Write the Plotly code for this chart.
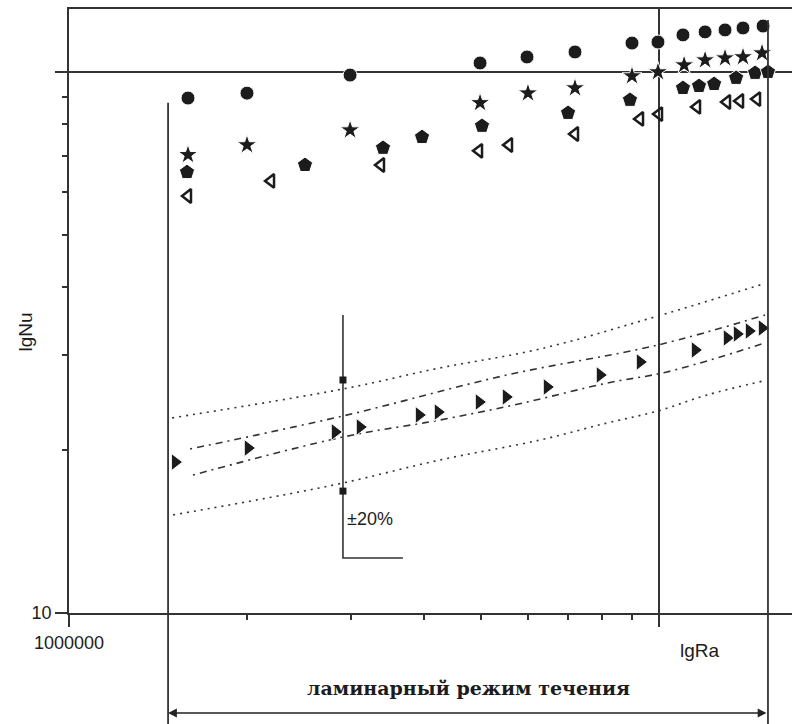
import math
import plotly.graph_objects as go

# ---------------- data ----------------
RA_CIRCLE = [1.591e6, 2.003e6, 2.995e6, 4.974e6, 5.974e6, 7.205e6, 9.0e6, 9.96e6,
             1.098e7, 1.197e7, 1.294e7, 1.388e7, 1.501e7]
NU_CIRCLE = [89.5, 91.4, 98.7, 103.9, 106.6, 108.9, 113.1, 113.6,
             117.1, 118.6, 119.6, 120.6, 121.6]

RA_STAR = [1.591e6, 2.003e6, 2.995e6, 4.974e6, 5.997e6, 7.205e6, 9.0e6, 9.96e6,
           1.103e7, 1.197e7, 1.294e7, 1.388e7, 1.495e7]
NU_STAR = [70.3, 73.3, 78.1, 87.7, 91.4, 93.4, 98.3, 100.0,
           103.0, 105.2, 106.1, 106.6, 108.4]

RA_PENT = [1.585e6, 2.512e6, 3.406e6, 3.966e6, 5.012e6, 7.012e6, 8.93e6,
           1.098e7, 1.169e7, 1.240e7, 1.351e7, 1.455e7, 1.530e7]
NU_PENT = [65.3, 67.3, 72.4, 75.8, 79.5, 84.0, 88.8,
           93.4, 94.2, 95.0, 97.5, 99.6, 100.0]

RA_TRI_L = [1.591e6, 2.200e6, 3.379e6, 4.954e6, 5.569e6, 7.205e6, 9.286e6,
            1.0e7, 1.160e7, 1.304e7, 1.372e7, 1.466e7]
NU_TRI_L = [59.0, 62.9, 67.3, 71.5, 73.3, 76.8, 81.9,
            83.6, 86.2, 88.0, 88.4, 89.1]

RA_TRI_R = [1.513e6, 2.011e6, 2.824e6, 3.113e6, 3.920e6, 4.221e6, 4.954e6, 5.504e6,
            6.459e6, 7.943e6, 9.286e6, 1.151e7, 1.304e7, 1.356e7, 1.421e7, 1.495e7]
NU_TRI_R = [19.01, 20.18, 21.61, 22.07, 23.23, 23.52, 24.55, 25.08,
            26.17, 27.54, 29.11, 30.63, 32.24, 32.79, 33.21, 33.63]

# correlation band lines
BAND1_RA = [1.495e6, 2.913e6, 4.254e6, 6.284e6, 9.961e6, 1.501e7]
BAND1_NU = [22.94, 25.95, 28.38, 30.76, 35.40, 40.56]
BAND2_RA = [1.604e6, 2.913e6, 5.526e6, 9.961e6, 1.5125e7]
BAND2_NU = [20.10, 23.13, 27.54, 31.29, 35.55]
BAND3_RA = [1.622e6, 2.913e6, 4.254e6, 5.882e6, 8.165e6, 1.0317e7, 1.5125e7]
BAND3_NU = [17.99, 21.15, 22.74, 24.45, 26.61, 27.90, 31.56]
BAND4_RA = [1.501e6, 2.166e6, 2.913e6, 4.254e6, 6.284e6, 8.165e6, 9.961e6, 1.206e7, 1.501e7]
BAND4_NU = [15.18, 16.31, 17.39, 19.18, 20.88, 22.45, 23.63, 25.29, 26.84]

# +-20% bar
ERR_RA = 2.913e6
ERR_FOOT_RA = 3.681e6
ERR_NU = [35.55, 12.64]
ERR_MARKS = [26.96, 16.80]
ERR_LABEL_NU = 14.9

# laminar regime bounds
RA_LAM = [1.472e6, 1.53e7]
NU_LAM_TOP = [87.7, 124.8]

X_TICKS = [1e6, 1e7]
X_TICKTEXT = ["1000000", ""]
X_MINOR = [2e6, 3e6, 4e6, 5e6, 6e6, 7e6, 8e6, 9e6]
Y_TICKS = [10, 100]
Y_TICKTEXT = ["10", ""]
Y_MINOR = [20, 30, 40, 50, 60, 70, 80, 90]

# ---------------- layout constants ----------------
W, H = 792, 724
ML, MR, MT, MB = 69, 0, 9, 111
PW, PH = W - ML - MR, H - MT - MB
X_RANGE = [6.0, 6.0 + PW / 590.0]
Y_RANGE = [1.0, 1.0 + PH / 541.0]
INK = "#1c1c1c"
LINE = "#333333"
FONT = "Liberation Sans, Arial, sans-serif"


def ypaper(v):
    return (math.log10(v) - Y_RANGE[0]) / (Y_RANGE[1] - Y_RANGE[0])


fig = go.Figure()

band_style = [
    (BAND1_RA, BAND1_NU, "2px,5px"),
    (BAND2_RA, BAND2_NU, "2px,5px,7px,5px"),
    (BAND3_RA, BAND3_NU, "2px,5px,7px,5px"),
    (BAND4_RA, BAND4_NU, "2px,5px"),
]
for xs, ys, dash in band_style:
    fig.add_trace(go.Scatter(x=xs, y=ys, mode="lines",
                             line=dict(color=LINE, width=1.6, dash=dash, shape="spline"),
                             showlegend=False, hoverinfo="skip"))

# error bar
fig.add_trace(go.Scatter(x=[ERR_RA, ERR_RA, ERR_FOOT_RA],
                         y=[ERR_NU[0], ERR_NU[1], ERR_NU[1]], mode="lines",
                         line=dict(color=LINE, width=1.6), showlegend=False))
fig.add_trace(go.Scatter(x=[ERR_RA, ERR_RA], y=ERR_MARKS, mode="markers",
                         marker=dict(symbol="square", size=7, color=INK), showlegend=False))

marker_sets = [
    (RA_CIRCLE, NU_CIRCLE, "circle", 14, dict(color=INK, line=dict(color="white", width=1))),
    (RA_STAR, NU_STAR, "star", 15, dict(color=INK, line=dict(color="white", width=1))),
    (RA_PENT, NU_PENT, "pentagon", 16, dict(color=INK, line=dict(color="white", width=1))),
    (RA_TRI_L, NU_TRI_L, "triangle-left-open", 12, dict(color=INK, line=dict(color=INK, width=2.5))),
    (RA_TRI_R, NU_TRI_R, "triangle-right", 15, dict(color=INK, line=dict(color="white", width=1))),
]
for xs, ys, sym, size, extra in marker_sets:
    m = dict(symbol=sym, size=size)
    m.update(extra)
    fig.add_trace(go.Scatter(x=xs, y=ys, mode="markers", marker=m,
                             showlegend=False, cliponaxis=False))

shapes = [
    dict(type="line", xref="x", yref="paper", x0=RA_LAM[0], x1=RA_LAM[0],
         y0=-MB / PH, y1=ypaper(NU_LAM_TOP[0]), line=dict(color=LINE, width=1.8)),
    dict(type="line", xref="x", yref="paper", x0=RA_LAM[1], x1=RA_LAM[1],
         y0=-MB / PH, y1=ypaper(NU_LAM_TOP[1]), line=dict(color=LINE, width=1.8)),
]

annotations = [
    dict(x=math.log10(RA_LAM[0]), y=-100.0 / PH, xref="x", yref="paper",
         ax=math.log10(RA_LAM[1]), axref="x", ay=0, ayref="pixel",
         showarrow=True, arrowside="end+start", arrowhead=2, arrowsize=1.1,
         arrowwidth=1.6, arrowcolor="#222222", text=""),
    dict(x=(math.log10(RA_LAM[0]) + math.log10(RA_LAM[1])) / 2, y=-75.0 / PH,
         xref="x", yref="paper", text="ламинарный режим течения", showarrow=False,
         xanchor="center", yanchor="middle",
         font=dict(family="DejaVu Serif, serif", size=19, color=INK, weight="bold")),
    dict(x=(700 - ML) / PW, y=-37.0 / PH, xref="paper", yref="paper",
         xanchor="center", yanchor="middle",
         text="lgRa", showarrow=False, font=dict(family=FONT, size=19, color=INK)),
    dict(x=-44.0 / PW, y=ypaper(33), xref="paper", yref="paper",
         xanchor="center", yanchor="middle",
         text="lgNu", textangle=-90, showarrow=False, font=dict(family=FONT, size=19, color=INK)),
    dict(x=math.log10(ERR_RA), y=math.log10(ERR_LABEL_NU), xref="x", yref="y",
         text="±20%", showarrow=False, xanchor="left", yanchor="middle", xshift=2,
         font=dict(family=FONT, size=18, color=INK)),
]

axis_common = dict(type="log", showline=True, linecolor=LINE, linewidth=1.8,
                   ticks="outside", ticklen=12, tickwidth=1.8, tickcolor=LINE,
                   showgrid=True, gridcolor=LINE, gridwidth=1.8, automargin=False,
                   tickfont=dict(family=FONT, size=18, color=INK), zeroline=False)

fig.update_layout(
    width=W, height=H,
    margin=dict(l=ML, r=MR, t=MT, b=MB, autoexpand=False),
    paper_bgcolor="white", plot_bgcolor="white",
    showlegend=False,
    xaxis=dict(range=X_RANGE, tickmode="array", tickvals=X_TICKS, ticktext=X_TICKTEXT,
               mirror=True,
               minor=dict(tickmode="array", tickvals=X_MINOR, ticks="outside", ticklen=5,
                          tickwidth=1.5, tickcolor=LINE, showgrid=False),
               **axis_common),
    yaxis=dict(range=Y_RANGE, tickmode="array", tickvals=Y_TICKS, ticktext=Y_TICKTEXT,
               mirror=False,
               minor=dict(tickmode="array", tickvals=Y_MINOR, ticks="outside", ticklen=5,
                          tickwidth=1.5, tickcolor=LINE, showgrid=False),
               **axis_common),
    shapes=shapes,
    annotations=annotations,
)

fig.write_html("out.html", config={"displayModeBar": False},
               post_script="document.body.style.margin='0px';document.body.style.overflow='hidden';")
